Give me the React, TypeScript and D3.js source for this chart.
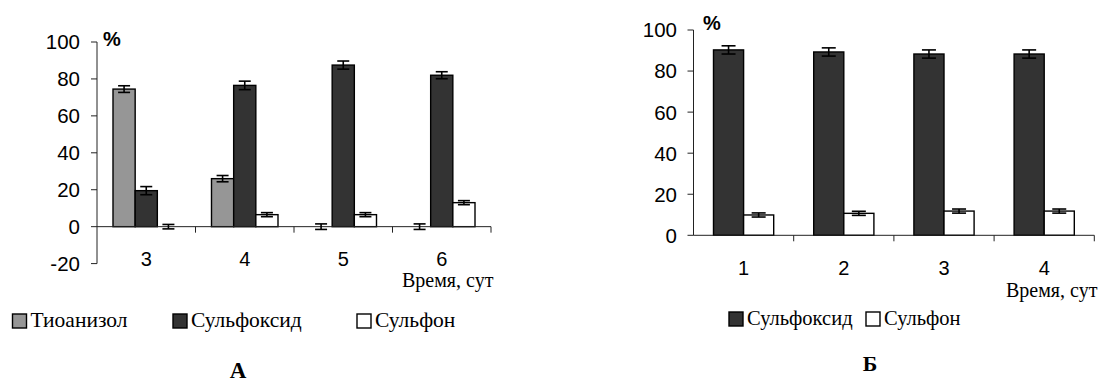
import React from "react";
import * as d3 from "d3";

// ---- Data: panel A ----
const daysA = ["3", "4", "5", "6"];
const seriesA = ["Тиоанизол", "Сульфоксид", "Сульфон"];
const thioanisoleA = [74.5, 26, 0, 0];
const sulfoxideA = [19.5, 76.5, 87.5, 82];
const sulfoneA = [0, 6.5, 6.5, 13];
const thioanisoleErrA = [1.8, 1.7, 1.5, 1.5];
const sulfoxideErrA = [2.2, 2.3, 2.2, 1.9];
const sulfoneErrA = [1.2, 1.1, 1.1, 1.1];
const yTicksA = [-20, 0, 20, 40, 60, 80, 100];

// ---- Data: panel B ----
const daysB = ["1", "2", "3", "4"];
const seriesB = ["Сульфоксид", "Сульфон"];
const sulfoxideB = [90.3, 89.3, 88.3, 88.3];
const sulfoneB = [9.9, 10.7, 11.8, 11.8];
const sulfoxideErrB = [2, 2, 2, 2];
const sulfoneErrB = [1, 1, 1, 1];
const yTicksB = [0, 20, 40, 60, 80, 100];

const xAxisTitle = "Время, сут";
const colors: Record<string, string> = {
  "Тиоанизол": "#969696",
  "Сульфоксид": "#333333",
  "Сульфон": "#ffffff",
};

const SANS = "'Liberation Sans', Arial, sans-serif";
const SERIF = "'Liberation Serif', 'Times New Roman', serif";

type Panel = {
  days: string[];
  series: string[];
  values: number[][];
  errs: number[][];
  yTicks: number[];
  yDomain: [number, number];
  yRange: [number, number];
  xRange: [number, number];
  groupPad: number;
  capHalf: number;
  labelGap: number;
};

function BarPanel({ p }: { p: Panel }) {
  const y = d3.scaleLinear().domain(p.yDomain).range(p.yRange);
  const x = d3.scaleBand<string>().domain(p.days).range(p.xRange).padding(0);
  const bw = x.bandwidth();
  const inner = d3
    .scaleBand<string>()
    .domain(p.series)
    .range([p.groupPad, bw - p.groupPad])
    .padding(0);
  const y0 = y(0);
  const axisX = p.xRange[0];
  const boundaries = p.days.map((d) => x(d)!).concat([p.xRange[1]]);
  return (
    <g>
      {p.series.map((s, si) =>
        p.days.map((d, di) => {
          const v = p.values[si][di];
          const bx = x(d)! + inner(s)!;
          const top = y(Math.max(0, v));
          const h = Math.abs(y(v) - y0);
          return h > 0 ? (
            <rect
              key={s + d}
              x={bx}
              y={top}
              width={inner.bandwidth()}
              height={h}
              fill={colors[s]}
              stroke="#000"
              strokeWidth={1.4}
            />
          ) : null;
        })
      )}
      <line x1={axisX} x2={p.xRange[1]} y1={y0} y2={y0} stroke="#222" strokeWidth={1} />
      {boundaries.slice(1).map((bx, i) => (
        <line key={"xt" + i} x1={bx} x2={bx} y1={y0} y2={y0 + 6} stroke="#222" strokeWidth={1} />
      ))}
      <line x1={axisX} x2={axisX} y1={y(p.yDomain[1])} y2={y(p.yDomain[0])} stroke="#222" strokeWidth={1} />
      {p.yTicks.map((t) => (
        <g key={"yt" + t}>
          <line x1={axisX - 6} x2={axisX} y1={y(t)} y2={y(t)} stroke="#222" strokeWidth={1} />
          <text
            x={axisX - p.labelGap}
            y={y(t)}
            dy="0.36em"
            textAnchor="end"
            fontFamily={SANS}
            fontSize={20.5}
            fill="#000"
          >
            {t}
          </text>
        </g>
      ))}
      {p.series.map((s, si) =>
        p.days.map((d, di) => {
          const v = p.values[si][di];
          const e = p.errs[si][di];
          const cx = x(d)! + inner(s)! + inner.bandwidth() / 2;
          return (
            <g key={"e" + s + d} stroke="#000" strokeWidth={1.6}>
              <line x1={cx} x2={cx} y1={y(v + e)} y2={y(v - e)} />
              <line x1={cx - p.capHalf} x2={cx + p.capHalf} y1={y(v + e)} y2={y(v + e)} />
              <line x1={cx - p.capHalf} x2={cx + p.capHalf} y1={y(v - e)} y2={y(v - e)} />
            </g>
          );
        })
      )}
    </g>
  );
}

function Legend({
  items,
  xs,
  y,
  size,
  fontSize,
}: {
  items: string[];
  xs: number[];
  y: number;
  size: number;
  fontSize: number;
}) {
  return (
    <g>
      {items.map((s, i) => (
        <g key={s}>
          <rect x={xs[i]} y={y} width={size} height={size} fill={colors[s]} stroke="#000" strokeWidth={1.4} />
          <text x={xs[i] + size + 4} y={y + size - 1} fontFamily={SERIF} fontSize={fontSize} fill="#000">
            {s}
          </text>
        </g>
      ))}
    </g>
  );
}

export default function App() {
  const panelA: Panel = {
    days: daysA,
    series: seriesA,
    values: [thioanisoleA, sulfoxideA, sulfoneA],
    errs: [thioanisoleErrA, sulfoxideErrA, sulfoneErrA],
    yTicks: yTicksA,
    yDomain: [-20, 100],
    yRange: [263.6, 42],
    xRange: [97, 491],
    groupPad: 16,
    capHalf: 6,
    labelGap: 17,
  };
  const panelB: Panel = {
    days: daysB,
    series: seriesB,
    values: [sulfoxideB, sulfoneB],
    errs: [sulfoxideErrB, sulfoneErrB],
    yTicks: yTicksB,
    yDomain: [0, 100],
    yRange: [235.3, 30],
    xRange: [693.5, 1094.3],
    groupPad: 20,
    capHalf: 7,
    labelGap: 16.5,
  };
  const xA = d3.scaleBand<string>().domain(daysA).range(panelA.xRange);
  const xB = d3.scaleBand<string>().domain(daysB).range(panelB.xRange);
  return (
    <svg
      width={1111}
      height={382}
      style={{ position: "absolute", left: 0, top: 0, background: "#fff" }}
    >
      <rect x={0} y={0} width={1111} height={382} fill="#fff" />
      <BarPanel p={panelA} />
      <BarPanel p={panelB} />
      <text x={103} y={46} fontFamily={SANS} fontWeight="bold" fontSize={20}>%</text>
      <text x={703} y={30} fontFamily={SANS} fontWeight="bold" fontSize={20}>%</text>
      {daysA.map((d) => (
        <text key={"la" + d} x={xA(d)! + xA.bandwidth() / 2} y={266} textAnchor="middle" fontFamily={SANS} fontSize={20}>
          {d}
        </text>
      ))}
      {daysB.map((d) => (
        <text key={"lb" + d} x={xB(d)! + xB.bandwidth() / 2} y={275} textAnchor="middle" fontFamily={SANS} fontSize={20}>
          {d}
        </text>
      ))}
      <text x={402} y={287} fontFamily={SERIF} fontSize={20}>{xAxisTitle}</text>
      <text x={1006} y={297} fontFamily={SERIF} fontSize={20}>{xAxisTitle}</text>
      <Legend items={seriesA} xs={[12.5, 173, 357]} y={314} size={14} fontSize={21.5} />
      <Legend items={seriesB} xs={[729, 866]} y={312} size={14} fontSize={20.5} />
      <text x={238} y={378} textAnchor="middle" fontFamily={SERIF} fontWeight="bold" fontSize={23}>А</text>
      <text x={870} y={371} textAnchor="middle" fontFamily={SERIF} fontWeight="bold" fontSize={22}>Б</text>
    </svg>
  );
}
